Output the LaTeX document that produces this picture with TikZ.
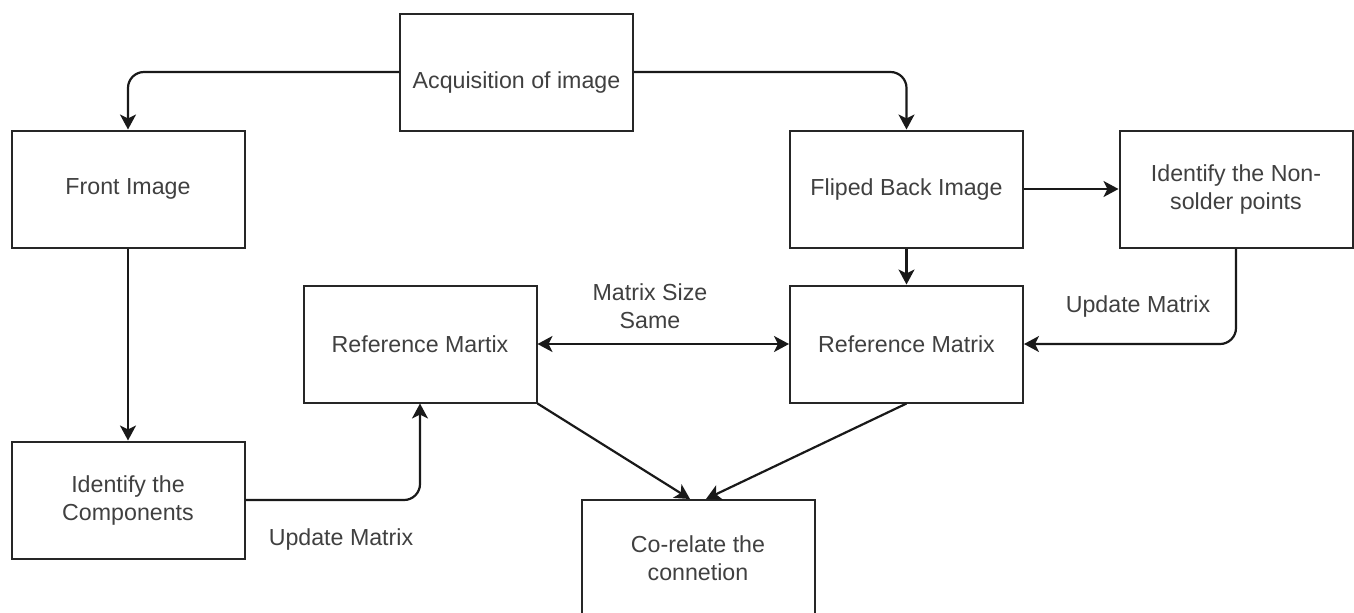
\documentclass[tikz,border=0pt]{standalone}
\usepackage{fontspec}
\setmainfont{Liberation Sans}
\usetikzlibrary{arrows.meta}
\begin{document}
\begin{tikzpicture}[x=0.5pt,y=-0.5pt,
  box/.style={draw=black!85,line width=1pt,minimum width=116.5pt,minimum height=58.5pt,inner sep=0pt,align=center,text=black!75,font=\fontsize{11.6}{14}\selectfont},
  txt/.style={text=black!75,align=center,font=\fontsize{11.6}{14}\selectfont},
  tip/.style={Stealth[length=7.5pt,width=8pt,inset=2pt]},
  arr/.style={draw=black!90,line width=1.1pt,-{Stealth[length=7.5pt,width=8pt,inset=2pt]}},
  darr/.style={draw=black!90,line width=1.1pt,{Stealth[length=7.5pt,width=8pt,inset=2pt]}-{Stealth[length=7.5pt,width=8pt,inset=2pt]}}]
\clip (0,0) rectangle (1354,612);
\fill[white] (0,0) rectangle (1354,612);
\node[box,label={[txt,yshift=-5pt]center:Acquisition of image}] (acq) at (516.5,72) {};
\node[box] (front) at (128,189) {Front Image};
\node[box] (flip) at (906.5,189) {Fliped Back Image};
\node[box] (nons) at (1236,189) {Identify the Non-\\solder points};
\node[box] (refL) at (420,344) {Reference Martix};
\node[box] (refR) at (906.5,344) {Reference Matrix};
\node[box] (comp) at (128,500) {Identify the\\Components};
\node[box] (corr) at (698,558) {Co-relate the\\connetion};
\coordinate (cl) at (690,499);
\coordinate (cr) at (706,499);
\draw[arr,rounded corners=8pt] (acq.west) -| (front.north);
\draw[arr,rounded corners=8pt] (acq.east) -| (flip.north);
\draw[arr] (front.south) -- (comp.north);
\draw[arr] (flip.east) -- (nons.west);
\draw[arr] (flip.south) -- (refR.north);
\draw[arr,rounded corners=8pt] (nons.south) |- (refR.east);
\draw[arr,rounded corners=8pt] (comp.east) -| (refL.south);
\draw[darr] (refL.east) -- (refR.west);
\draw[arr] (refL.south east) -- (cl);
\draw[arr] (refR.south) -- (cr);
\node[txt] (lms) at (650,306) {Matrix Size\\Same};
\node[txt] (lur) at (1138,306) {Update Matrix};
\node[txt] (lul) at (341,539) {Update Matrix};
\end{tikzpicture}
\end{document}
